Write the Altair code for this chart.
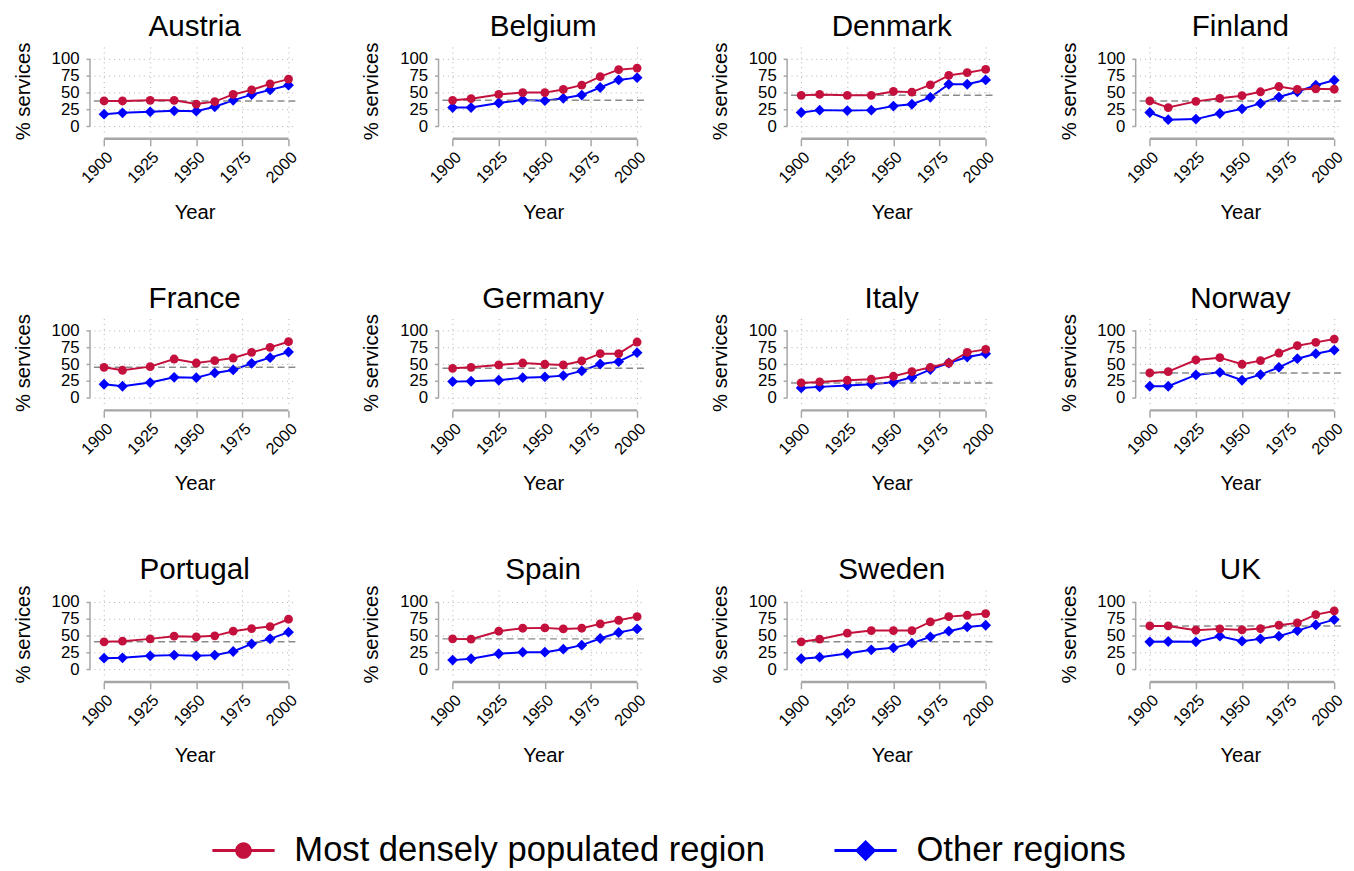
import altair as alt
import pandas as pd

years = [1900, 1910, 1925, 1938, 1950, 1960, 1970, 1980, 1990, 2000]
countries = ["Austria", "Belgium", "Denmark", "Finland",
             "France", "Germany", "Italy", "Norway",
             "Portugal", "Spain", "Sweden", "UK"]
series_names = ["Most densely populated region", "Other regions"]

dense = {
    "Austria":  [37.6, 37.6, 38.5, 38.5, 33.0, 36.6, 47.3, 54.0, 63.0, 70.0],
    "Belgium":  [38.5, 41.0, 47.3, 50.0, 50.0, 54.6, 61.0, 73.7, 84.0, 86.3],
    "Denmark":  [45.9, 47.3, 46.0, 46.0, 51.7, 50.7, 61.5, 75.6, 79.5, 84.4],
    "Finland":  [37.6, 27.8, 37.0, 41.5, 45.4, 51.2, 59.0, 54.6, 55.6, 55.0],
    "France":   [45.3, 40.9, 46.3, 57.6, 51.7, 55.2, 59.1, 67.5, 74.9, 83.3],
    "Germany":  [43.8, 45.3, 48.8, 51.7, 49.8, 48.8, 54.7, 65.5, 65.5, 82.8],
    "Italy":    [22.2, 23.6, 26.1, 27.6, 32.0, 38.9, 45.3, 51.7, 67.5, 71.9],
    "Norway":   [36.9, 38.9, 56.2, 59.6, 49.8, 55.2, 66.5, 77.3, 82.3, 87.2],
    "Portugal": [40.9, 41.9, 45.3, 49.3, 48.3, 49.8, 56.7, 60.6, 63.5, 74.4],
    "Spain":    [45.3, 44.8, 56.7, 61.1, 61.6, 60.1, 61.1, 67.5, 72.9, 78.3],
    "Sweden":   [40.9, 44.8, 53.7, 57.6, 57.6, 57.6, 70.4, 78.3, 80.3, 82.8],
    "UK":       [64.5, 64.5, 58.1, 60.1, 58.6, 60.6, 65.5, 69.0, 81.3, 86.7],
}
other = {
    "Austria":  [18.0, 20.0, 21.5, 23.0, 22.4, 29.0, 38.5, 47.0, 54.0, 61.0],
    "Belgium":  [27.8, 27.8, 34.6, 39.0, 38.0, 41.5, 46.3, 57.6, 68.8, 72.2],
    "Denmark":  [20.5, 24.0, 23.4, 24.0, 30.0, 32.7, 43.0, 62.4, 62.4, 68.8],
    "Finland":  [20.5, 9.8, 10.7, 19.0, 25.9, 34.0, 43.4, 51.2, 61.0, 68.3],
    "France":   [20.2, 17.2, 22.7, 30.5, 30.0, 37.0, 41.4, 51.2, 59.6, 68.0],
    "Germany":  [24.1, 24.6, 26.1, 30.0, 31.0, 33.0, 40.0, 50.2, 53.7, 67.0],
    "Italy":    [14.8, 16.3, 18.2, 20.2, 23.2, 30.5, 41.9, 51.7, 60.6, 65.5],
    "Norway":   [17.2, 17.2, 34.0, 37.9, 26.1, 34.5, 45.3, 58.1, 65.5, 70.9],
    "Portugal": [16.7, 17.2, 20.2, 21.2, 20.2, 21.2, 26.6, 37.9, 45.3, 55.2],
    "Spain":    [13.8, 15.8, 23.2, 25.6, 25.6, 30.0, 36.0, 45.8, 54.7, 60.1],
    "Sweden":   [15.8, 18.2, 23.6, 29.1, 32.0, 38.9, 48.3, 56.7, 63.0, 65.5],
    "UK":       [40.9, 41.4, 40.9, 49.3, 41.9, 45.3, 49.3, 57.6, 66.0, 73.9],
}

x_ticks = [1900, 1925, 1950, 1975, 2000]
y_ticks = [0, 25, 50, 75, 100]

FONT = "Liberation Sans"
RED = "#c4103c"
BLUE = "#0000ff"
AXC = "#a6a6a6"
W, H = 204, 89

rows = []
for c in countries:
    for i, yr in enumerate(years):
        rows.append({"country": c, "year": yr, "series": series_names[0], "value": dense[c][i]})
        rows.append({"country": c, "year": yr, "series": series_names[1], "value": other[c][i]})
df = pd.DataFrame(rows)

cscale = alt.Scale(domain=series_names, range=[RED, BLUE])
xscale = alt.Scale(domain=[1894.5, 2003.7], nice=False, zero=False)
yscale = alt.Scale(domain=[-12.7, 117.6], nice=False, zero=False)

ln = "M-3.94,-0.19L-1.0,-0.19L-1.0,0.19L-3.94,0.19Z M1.0,-0.19L3.94,-0.19L3.94,0.19L1.0,0.19Z "
P_CIRCLE = ln + "M-1.05,0A1.05,1.05,0,1,1,1.05,0A1.05,1.05,0,1,1,-1.05,0Z"
P_DIAMOND = ln + "M0,-1.35L1.35,0L0,1.35L-1.35,0Z"

legend = alt.Legend(orient="none", legendX=134, legendY=796, direction="horizontal",
                    title=None, labelFontSize=35, labelFont=FONT, labelColor="black",
                    symbolSize=256, symbolStrokeWidth=0, symbolOpacity=1,
                    labelOffset=34, columnPadding=69, labelLimit=0)

xaxis = alt.Axis(values=x_ticks, format="d", labelAngle=-45, domain=False, offset=4,
                 tickSize=7, tickWidth=1.5, tickColor=AXC, labelFontSize=16.5, labelPadding=3,
                 titleFontSize=20.5, titlePadding=17, grid=True, gridDash=[1, 4],
                 gridColor="#b0b0b0", labelFlush=False, labelOverlap=False)
yaxis = alt.Axis(values=y_ticks, domain=False, offset=4, tickSize=4, tickWidth=1.5,
                 tickColor=AXC, labelFontSize=17, labelPadding=7, titleFontSize=20.5,
                 titlePadding=18, grid=True, gridDash=[1, 4], gridColor="#b0b0b0",
                 labelFlush=False, labelOverlap=False)

col = alt.Color("series:N", scale=cscale, legend=legend)
shp = alt.Shape("series:N", scale=alt.Scale(domain=series_names, range=[P_CIRCLE, P_DIAMOND]),
                legend=legend)


def panel(c):
    d = df[df.country == c].copy()
    d["ref"] = dense[c][0]
    d["ylo"] = min(y_ticks)
    d["yhi"] = max(y_ticks)
    d["xlo"] = min(x_ticks)
    d["xhi"] = max(x_ticks)
    base = alt.Chart(d)
    xenc = alt.X("year:Q", scale=xscale, title="Year", axis=xaxis)
    yenc = alt.Y("value:Q", scale=yscale, title="% services", axis=yaxis)

    blue_line = base.transform_filter(alt.datum.series == series_names[1]).mark_line(
        strokeWidth=2).encode(x=xenc, y=yenc, color=col)
    red_line = base.transform_filter(alt.datum.series == series_names[0]).mark_line(
        strokeWidth=2).encode(x=xenc, y=yenc, color=col)
    diamonds = base.transform_filter(alt.datum.series == series_names[1]).mark_point(
        shape="diamond", filled=True, size=120, opacity=1).encode(x=xenc, y=yenc, color=col)
    circles = base.transform_filter(alt.datum.series == series_names[0]).mark_point(
        shape="circle", filled=True, size=80, opacity=1).encode(x=xenc, y=yenc, color=col)
    leg = base.mark_point(filled=True, opacity=0).encode(x=xenc, y=yenc, color=col, shape=shp)

    first = base.transform_filter(alt.datum.series == series_names[0]).transform_filter(
        alt.datum.year == years[0])
    ref = first.mark_rule(color="#8a8a8a", strokeDash=[7, 4], strokeWidth=1.5).encode(
        y=alt.Y("ref:Q", scale=yscale, title="% services", axis=yaxis))
    yline = first.mark_rule(color=AXC, strokeWidth=1.5).encode(
        x=alt.value(-4), y=alt.Y("ylo:Q", scale=yscale, title="% services", axis=yaxis), y2="yhi:Q")
    xline = first.mark_rule(color=AXC, strokeWidth=2.5).encode(
        y=alt.value(H + 4), x=alt.X("xlo:Q", scale=xscale, title="Year", axis=xaxis), x2="xhi:Q")

    return alt.layer(blue_line, ref, diamonds, red_line, circles, leg, yline, xline).properties(
        width=W, height=H,
        title=alt.TitleParams(text=c, fontSize=30, font=FONT, fontWeight="normal",
                              color="black", anchor="middle", offset=0))


rows_charts = []
for r in range(3):
    rows_charts.append(alt.hconcat(*[panel(c) for c in countries[r * 4:(r + 1) * 4]], spacing=62))

chart = alt.vconcat(*rows_charts, spacing=60).properties(
    padding={"left": 5, "top": -2, "right": 0, "bottom": 0},
    background="white"
).configure_view(stroke=None).configure_axis(
    labelFont=FONT, titleFont=FONT, labelColor="black", titleColor="black",
    titleFontWeight="normal"
)

chart.save("out.html", embed_options={"renderer": "svg", "actions": False})
